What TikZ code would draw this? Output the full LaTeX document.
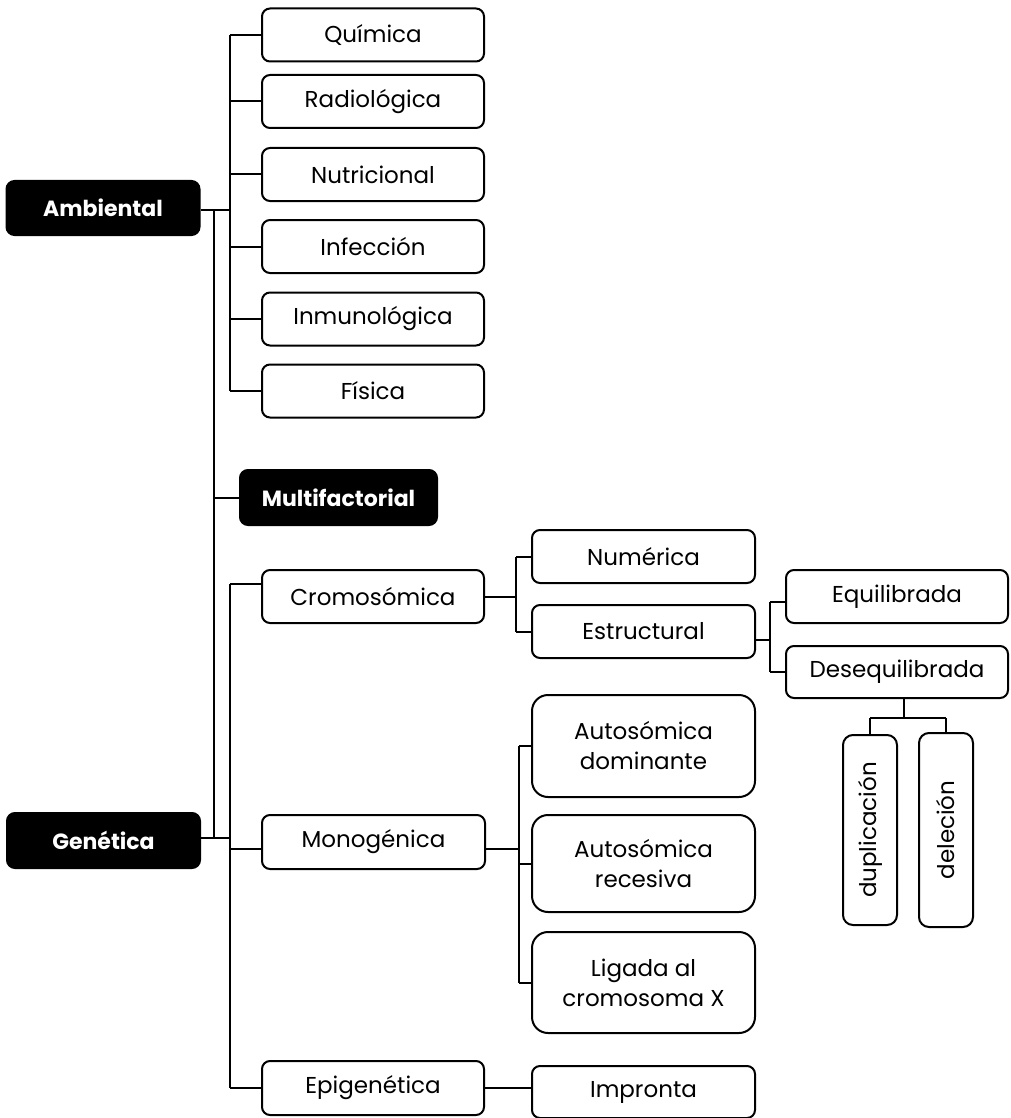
\documentclass[tikz,border=0pt]{standalone}
\usepackage{fontspec}
\setmainfont{Poppins}
\begin{document}
\begin{tikzpicture}[x=1pt,y=-1pt,line width=2pt,
  box/.style={draw, rounded corners=8pt, minimum width=222pt, minimum height=53pt, inner sep=0pt, align=center, font=\fontsize{23}{30}\selectfont},
  tallbox/.style={box, rounded corners=16pt, minimum width=223pt},
  blackbox/.style={draw, fill=black, text=white, rounded corners=8pt, minimum width=193pt, minimum height=54pt, inner sep=0pt, font=\fontsize{22}{26}\selectfont\bfseries},
  vbox/.style={draw, rounded corners=10pt, rotate=90, minimum width=190pt, minimum height=54pt, inner sep=0pt, font=\fontsize{23}{26}\selectfont}]
\useasboundingbox (0,0) rectangle (1010,1118);
% top level
\node[blackbox] (amb) at (103,208) {Ambiental};
\node[blackbox, minimum width=197pt, minimum height=55pt] (multi) at (338.5,497.5) {Multifactorial};
\node[blackbox, minimum height=55pt] (gen) at (103.5,840.5) {Genética};
% ambiental children
\node[box] (quim) at (373,35) {Química};
\node[box] (radi) at (373,101.5) {Radiológica};
\node[box] (nutr) at (373,174.5) {Nutricional};
\node[box] (infe) at (373,246.5) {Infección};
\node[box] (inmu) at (373,319) {Inmunológica};
\node[box] (fisi) at (373,391) {Física};
% genetica children
\node[box] (cromo) at (373,596.5) {Cromosómica};
\node[box, minimum width=223pt, minimum height=54pt] (mono) at (373.5,842) {Monogénica};
\node[box, minimum height=54pt] (epi) at (373,1088) {Epigenética};
% level 3
\node[box, minimum width=223pt] (num) at (643.5,556.5) {Numérica};
\node[box, minimum width=223pt] (est) at (643.5,631.5) {Estructural};
\node[tallbox, minimum height=102pt] (adom) at (643.5,746) {Autosómica\\dominante};
\node[tallbox, minimum height=97pt] (arec) at (643.5,863.5) {Autosómica\\recesiva};
\node[tallbox, minimum height=101pt] (lig) at (643.5,982.5) {Ligada al\\cromosoma X};
\node[box, minimum width=223pt, minimum height=52pt] (imp) at (643.5,1092) {Impronta};
% level 4
\node[box] (equ) at (897,596.5) {Equilibrada};
\node[box, minimum height=52pt] (deseq) at (897,672) {Desequilibrada};
\node[vbox] (dup) at (870,830) {duplicación};
\node[vbox, minimum width=194pt] (del) at (946,830) {deleción};
% bus coordinates
\coordinate (bA) at (230,0);
\coordinate (bB) at (214,0);
\coordinate (bC) at (230,0);
\coordinate (bD) at (516,0);
\coordinate (bE) at (770,0);
\coordinate (bF) at (519,0);
\coordinate (jn) at (904,718);
% ambiental connectors
\coordinate (ambout) at ([yshift=-2pt]amb.east);
\draw (ambout) -- (ambout -| bA);
\draw (bA |- quim.west) -- (bA |- fisi.west);
\foreach \n in {quim,radi,nutr,infe,inmu,fisi} \draw (bA |- \n.west) -- (\n.west);
% trunk
\coordinate (genout) at ([yshift=3pt]gen.east);
\draw (genout) -- (genout -| bC);
\draw (bB |- ambout) -- (bB |- genout);
\draw (bB |- multi.west) -- (multi.west);
% genetica connectors
\coordinate (cromin) at ([yshift=13pt]cromo.west);
\coordinate (monoin) at ([yshift=-7pt]mono.west);
\draw (bC |- cromin) -- (cromin);
\draw (bC |- monoin) -- (monoin);
\draw (bC |- epi.west) -- (epi.west);
\draw (bC |- cromin) -- (bC |- epi.west);
% cromosomica
\draw (cromo.east) -- (cromo.east -| bD);
\draw (bD |- num.west) -- (bD |- est.west);
\draw (bD |- num.west) -- (num.west);
\draw (bD |- est.west) -- (est.west);
% estructural
\coordinate (estout) at ([yshift=-8pt]est.east);
\coordinate (equin) at ([yshift=-5pt]equ.west);
\draw (estout) -- (estout -| bE);
\draw (bE |- equin) -- (bE |- deseq.west);
\draw (bE |- equin) -- (equin);
\draw (bE |- deseq.west) -- (deseq.west);
% desequilibrada
\coordinate (dsb) at (deseq.south -| jn);
\draw (dsb) -- (jn);
\draw (dup.east |- jn) -- (del.east |- jn);
\draw (dup.east |- jn) -- (dup.east);
\draw (del.east |- jn) -- (del.east);
% monogenica
\coordinate (monoout) at ([yshift=-7pt]mono.east);
\draw (monoout) -- (monoout -| bF);
\draw (bF |- adom.west) -- (bF |- lig.west);
\foreach \n in {adom,arec,lig} \draw (bF |- \n.west) -- (\n.west);
% epigenetica
\draw (epi.east) -- (epi.east -| imp.west);
\end{tikzpicture}
\end{document}
